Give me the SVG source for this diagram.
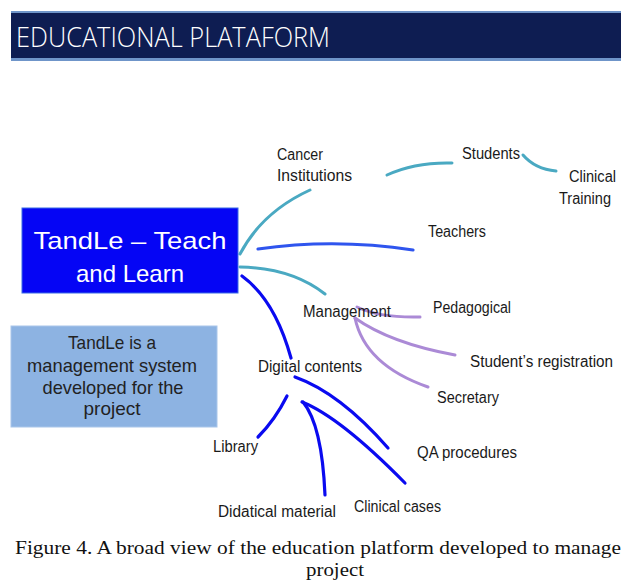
<svg xmlns="http://www.w3.org/2000/svg" width="621" height="582" viewBox="0 0 621 582">
<style>
.lbl{font-family:"Liberation Sans",Arial,sans-serif;font-size:16px;fill:#1a1a1a}
.teal{fill:none;stroke:#4AA9C2;stroke-width:3;stroke-linecap:round}
.blue{fill:none;stroke:#0A0AF0;stroke-width:3.2;stroke-linecap:round}
.mblue{fill:none;stroke:#2F55EE;stroke-width:3.2;stroke-linecap:round}
.purp{fill:none;stroke:#AB8AD6;stroke-width:3;stroke-linecap:round}
.box{font-family:"Liberation Sans",Arial,sans-serif;text-anchor:middle}
.cap{font-family:"Liberation Serif","Times New Roman",serif;font-size:18.5px;fill:#111}
</style>
<rect width="621" height="582" fill="#ffffff"/>
<g id="header">
<rect x="11" y="11" width="610" height="50" fill="#6F95C9"/>
<rect x="11" y="13" width="610" height="45" fill="#0E1D52"/>
<text x="16" y="47" font-family="'Open Sans','Liberation Sans',Arial,sans-serif" font-weight="300" font-size="28" fill="#ffffff" textLength="314" lengthAdjust="spacingAndGlyphs">EDUCATIONAL PLATAFORM</text>
</g>
<g id="connectors">
<path class="teal" d="M240,254 Q262,212 310,190"/>
<path class="teal" d="M387,175 Q415,162 452,163"/>
<path class="teal" d="M523,155 Q535,169 556,171"/>
<path class="teal" d="M240,267 Q292,268 325,294"/>
<path class="mblue" d="M258,249 Q335,238 413,250"/>
<path class="blue" d="M242,276 Q275,300 291,358"/>
<path class="blue" d="M287,396 Q275,420 258,437"/>
<path class="blue" d="M303,402 Q322,425 325,495"/>
<path class="blue" d="M302,402 Q340,417 405,483"/>
<path class="blue" d="M295,377 Q340,393 388,448"/>
<path class="purp" d="M357,307 Q380,318 420,317"/>
<path class="purp" d="M355,318 Q390,343 455,355"/>
<path class="purp" d="M355,318 Q365,365 428,387"/>
</g>
<g id="tandle">
<rect x="22" y="208" width="216" height="85" fill="#0505F5" stroke="#3A6BE6" stroke-width="1"/>
<text class="box" x="130" y="249" font-size="24" fill="#ffffff" textLength="193" lengthAdjust="spacingAndGlyphs">TandLe – Teach</text>
<text class="box" x="130" y="282" font-size="24" fill="#ffffff" textLength="108" lengthAdjust="spacingAndGlyphs">and Learn</text>
</g>
<g id="info">
<rect x="11" y="326" width="206" height="101" fill="#8DB3E2" stroke="#A9C6EA" stroke-width="1"/>
<text class="box" x="112" y="349" font-size="19" fill="#222" textLength="88" lengthAdjust="spacingAndGlyphs">TandLe is a</text>
<text class="box" x="112" y="372" font-size="19" fill="#222" textLength="170" lengthAdjust="spacingAndGlyphs">management system</text>
<text class="box" x="113" y="394" font-size="19" fill="#222" textLength="141" lengthAdjust="spacingAndGlyphs">developed for the</text>
<text class="box" x="112" y="415" font-size="19" fill="#222" textLength="57" lengthAdjust="spacingAndGlyphs">project</text>
</g>
<g id="cancer"><text class="lbl" x="277" y="160" textLength="46" lengthAdjust="spacingAndGlyphs">Cancer</text><text class="lbl" x="277" y="181" textLength="75" lengthAdjust="spacingAndGlyphs">Institutions</text></g>
<g id="students"><text class="lbl" x="462" y="159" textLength="58" lengthAdjust="spacingAndGlyphs">Students</text></g>
<g id="clinical-training"><text class="lbl" x="569" y="182" textLength="47" lengthAdjust="spacingAndGlyphs">Clinical</text><text class="lbl" x="559" y="204" textLength="52" lengthAdjust="spacingAndGlyphs">Training</text></g>
<g id="teachers"><text class="lbl" x="428" y="237" textLength="58" lengthAdjust="spacingAndGlyphs">Teachers</text></g>
<g id="management"><text class="lbl" x="303" y="317" textLength="88" lengthAdjust="spacingAndGlyphs">Management</text></g>
<g id="pedagogical"><text class="lbl" x="433" y="313" textLength="78" lengthAdjust="spacingAndGlyphs">Pedagogical</text></g>
<g id="registration"><text class="lbl" x="470" y="367" textLength="143" lengthAdjust="spacingAndGlyphs">Student’s registration</text></g>
<g id="secretary"><text class="lbl" x="437" y="403" textLength="62" lengthAdjust="spacingAndGlyphs">Secretary</text></g>
<g id="digital"><text class="lbl" x="258" y="372" textLength="104" lengthAdjust="spacingAndGlyphs">Digital contents</text></g>
<g id="library"><text class="lbl" x="213" y="452" textLength="45" lengthAdjust="spacingAndGlyphs">Library</text></g>
<g id="qa"><text class="lbl" x="417" y="458" textLength="100" lengthAdjust="spacingAndGlyphs">QA procedures</text></g>
<g id="clinical-cases"><text class="lbl" x="354" y="512" textLength="87" lengthAdjust="spacingAndGlyphs">Clinical cases</text></g>
<g id="didatical"><text class="lbl" x="218" y="517" textLength="118" lengthAdjust="spacingAndGlyphs">Didatical material</text></g>
<g id="caption">
<text class="cap" x="15" y="554" textLength="606" lengthAdjust="spacingAndGlyphs">Figure 4. A broad view of the education platform developed to manage</text>
<text class="cap" x="306" y="576" textLength="58" lengthAdjust="spacingAndGlyphs">project</text>
</g>
</svg>
